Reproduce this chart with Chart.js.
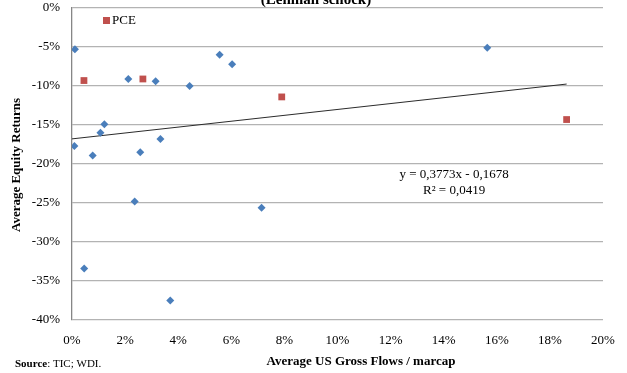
<!DOCTYPE html>
<html>
<head>
<meta charset="utf-8">
<script src="https://cdn.jsdelivr.net/npm/chart.js@4"></script>
<style>
  html, body { margin: 0; padding: 0; background: #fff; }
  #wrap { width: 627px; height: 373px; position: relative; }
</style>
</head>
<body>
<div id="wrap"><canvas id="scatterChart"></canvas></div>
<script>
const ctx = document.getElementById('scatterChart');

// countries, x = avg US gross flows / marcap (%), y = avg equity returns (%)
const otherX = [0.11, 2.12, 3.15, 4.43, 5.56, 6.03, 1.22, 1.07, 3.33, 0.09, 0.78, 2.57, 2.36, 0.46, 3.70, 7.14, 15.64]
const otherY = [-5.3, -9.1, -9.4, -10.0, -6.0, -7.2, -14.9, -16.0, -16.8, -17.7, -18.9, -18.5, -24.8, -33.4, -37.5, -25.6, -5.1]

const pceX = [0.45, 2.67, 7.90, 18.63]
const pceY = [-9.3, -9.1, -11.4, -14.3]

// linear trend as printed on the chart
const trendSlope = 0.3773
const trendIntercept = -16.78
const trendRange = [0, 18.63]

const xTicks = [0, 2, 4, 6, 8, 10, 12, 14, 16, 18, 20]
const yTicks = [0, -5, -10, -15, -20, -25, -30, -35, -40]

const serif = "'Liberation Serif', 'Times New Roman', serif"

const toPoints = (xs, ys) => xs.map((x, i) => {return {x: x, y: ys[i]}})

const textPlugin = {
    id: 'extraText',
    afterDraw(chart) {
        const c = chart.ctx
        const xs = chart.scales.x
        const ys = chart.scales.y
        c.save()
        c.fillStyle = '#000'
        // clipped title
        c.font = "bold 15px " + serif
        c.textAlign = 'center'
        c.textBaseline = 'alphabetic'
        c.fillText('(Lehman schock)', 316, 4)
        // trend equation
        c.font = "13px " + serif
        c.textBaseline = 'middle'
        c.fillText('y = 0,3773x - 0,1678', xs.getPixelForValue(14.39), ys.getPixelForValue(-21.3))
        c.fillText('R² = 0,0419', xs.getPixelForValue(14.39), ys.getPixelForValue(-23.35))
        // axis titles
        c.textBaseline = 'alphabetic'
        c.font = "bold 13px " + serif
        c.fillText('Average US Gross Flows / marcap', 361, 365)
        c.save()
        c.translate(20, 165)
        c.rotate(-Math.PI / 2)
        c.fillText('Average Equity Returns', 0, 0)
        c.restore()
        // source
        c.textAlign = 'left'
        c.font = "bold 11px " + serif
        c.fillText('Source', 15, 367)
        const w = c.measureText('Source').width
        c.font = "11px " + serif
        c.fillText(': TIC; WDI.', 15 + w, 367)
        // legend
        c.fillStyle = '#c0504d'
        c.fillRect(103, 17, 7, 7)
        c.fillStyle = '#000'
        c.font = "13px " + serif
        c.textBaseline = 'middle'
        c.fillText('PCE', 112, 21)
        c.restore()
    }
}

new Chart(ctx, {
    type: 'scatter',
    data: {
        datasets: [
            {
                label: 'countries',
                data: toPoints(otherX, otherY),
                pointStyle: 'rectRot',
                pointRadius: 4,
                pointHoverRadius: 4,
                backgroundColor: '#4a7ebb',
                borderColor: '#4a7ebb',
                borderWidth: 0
            },
            {
                label: 'PCE',
                data: toPoints(pceX, pceY),
                pointStyle: 'rect',
                pointRadius: 4.8,
                pointHoverRadius: 4.8,
                backgroundColor: '#c0504d',
                borderColor: '#c0504d',
                borderWidth: 0
            },
            {
                label: 'trend',
                type: 'line',
                data: trendRange.map(x => {return {x: x, y: trendIntercept + trendSlope * x}}),
                borderColor: '#2b2b2b',
                borderWidth: 1,
                pointRadius: 0,
                fill: false
            }
        ]
    },
    options: {
        responsive: true,
        maintainAspectRatio: false,
        animation: false,
        layout: { padding: { top: 8, right: 24, left: 0, bottom: 0 } },
        plugins: {
            legend: { display: false },
            tooltip: { enabled: false }
        },
        scales: {
            x: {
                type: 'linear',
                min: 0,
                max: 20,
                afterFit: s => { s.height = 53; s.paddingLeft = 0; s.paddingRight = 0 },
                afterBuildTicks: s => { s.ticks = xTicks.map(v => {return {value: v}}) },
                grid: { display: false, drawTicks: false },
                border: { display: false },
                ticks: {
                    color: '#000',
                    padding: 13,
                    font: { family: serif, size: 13 },
                    callback: v => v + '%'
                }
            },
            y: {
                type: 'linear',
                min: -40,
                max: 0,
                afterFit: s => { s.width = 72; s.paddingTop = 0; s.paddingBottom = 0 },
                afterBuildTicks: s => { s.ticks = yTicks.map(v => {return {value: v}}) },
                grid: { color: '#b3b3b3', lineWidth: 1.3, drawTicks: false },
                border: { display: true, color: '#868686', width: 1.3 },
                ticks: {
                    color: '#000',
                    padding: 12,
                    font: { family: serif, size: 13 },
                    callback: v => v + '%'
                }
            }
        }
    },
    plugins: [textPlugin]
});
</script>
</body>
</html>
